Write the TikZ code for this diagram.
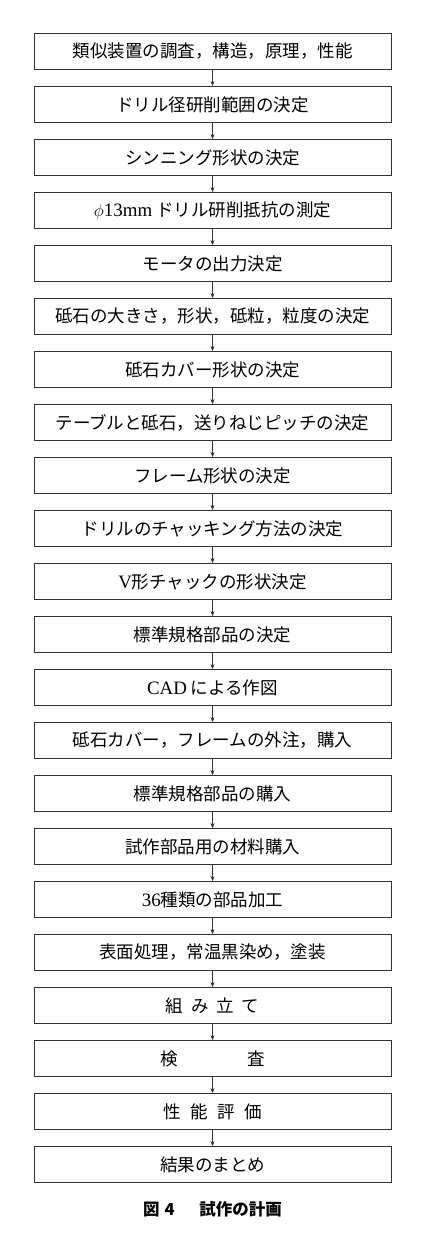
\documentclass[tikz,border=0pt]{standalone}
\usepackage{fontspec}
\setmainfont{Liberation Serif}[Scale=1.08]
\newfontfamily\jp{Noto Sans CJK JP}
\usetikzlibrary{arrows.meta}
\tikzset{
  stepbox/.style={draw=black!80, line width=0.8pt, minimum width=357pt, minimum height=36pt, inner sep=0pt, font=\fontsize{17.5}{20}\selectfont\jp},
  flow/.style={draw=black!80, line width=0.6pt, -{Stealth[length=5pt,width=4pt]}},
  captext/.style={font=\fontsize{16.5}{18}\selectfont\jp\bfseries, inner sep=0pt}
}
\begin{document}
\begin{tikzpicture}[x=1pt,y=-1pt]
\useasboundingbox[fill=white] (0,0) rectangle (436,1239);
\foreach \i/\t in {
 1/{類似装置の調査，構造，原理，性能},
 2/{ドリル径研削範囲の決定},
 3/{シンニング形状の決定},
 4/{{\rmfamily$\phi$13mm} ドリル研削抵抗の測定},
 5/{モータの出力決定},
 6/{砥石の大きさ，形状，砥粒，粒度の決定},
 7/{砥石カバー形状の決定},
 8/{テーブルと砥石，送りねじピッチの決定},
 9/{フレーム形状の決定},
 10/{ドリルのチャッキング方法の決定},
 11/{{\rmfamily V}形チャックの形状決定},
 12/{標準規格部品の決定},
 13/{{\rmfamily CAD} による作図},
 14/{砥石カバー，フレームの外注，購入},
 15/{標準規格部品の購入},
 16/{試作部品用の材料購入},
 17/{{\rmfamily 36}種類の部品加工},
 18/{表面処理，常温黒染め，塗装},
 19/{組\hspace{0.45em}み\hspace{0.45em}立\hspace{0.45em}て},
 20/{検　　　　査},
 21/{性\hspace{0.55em}能\hspace{0.55em}評\hspace{0.55em}価},
 22/{結果のまとめ}}
{
  \node[stepbox] (b\i) at (212.5, {51.5+53*(\i-1)}) {\t};
}
\foreach \i [evaluate=\i as \j using int(\i+1)] in {1,...,21}
{
  \draw[flow] (b\i.south) -- (b\j.north);
}
\node[captext] (caption) at (212.5,1209) {図\hspace{0.3em}4\hspace{1.5em}試作の計画};
\end{tikzpicture}
\end{document}
